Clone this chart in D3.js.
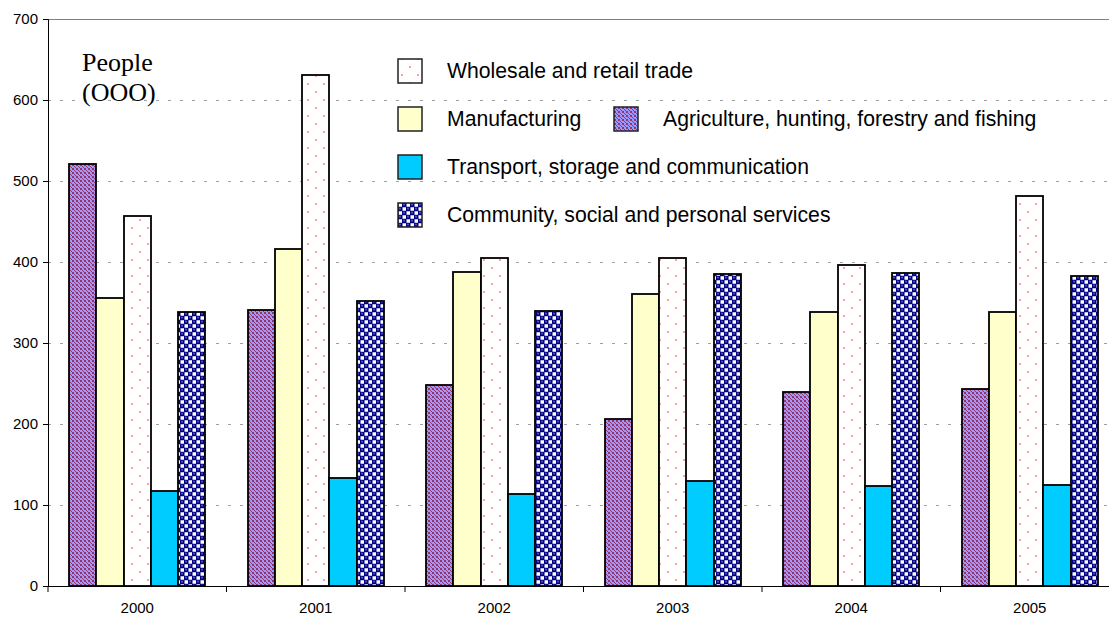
<!DOCTYPE html>
<html>
<head>
<meta charset="utf-8">
<script src="https://cdn.jsdelivr.net/npm/d3@7"></script>
<style>
  html, body { margin: 0; padding: 0; background: #fff; }
  svg { display: block; }
  text { font-family: "Liberation Sans", Arial, sans-serif; fill: #000; }
</style>
</head>
<body>
<svg id="chart" width="1109" height="617"></svg>
<script>
// Employment by sector, thousands of people
const years = ["2000", "2001", "2002", "2003", "2004", "2005"];
const sectors = ["agri", "manuf", "trade", "transport", "community"];
const agriculture = [521, 341, 248, 206, 239, 243];
const manufacturing = [355, 416, 388, 360, 338, 338];
const wholesale = [457, 631, 405, 405, 396, 481];
const transport = [117, 133, 114, 130, 123, 125];
const community = [338, 352, 339, 385, 387, 383];
const yTicks = [0, 100, 200, 300, 400, 500, 600, 700];

const seriesValues = {
  agri: agriculture,
  manuf: manufacturing,
  trade: wholesale,
  transport: transport,
  community: community
};

const svg = d3.select("#chart");
const W = 1109;
const plotLeft = 48, plotTop = 19, plotBottom = 586;
const step = 178.5;

// Fill patterns
const defs = svg.append("defs");

// dotted pink on white
const pTrade = defs.append("pattern").attr("id", "p-trade")
  .attr("patternUnits", "userSpaceOnUse").attr("width", 16).attr("height", 16);
pTrade.append("rect").attr("width", 16).attr("height", 16).attr("fill", "#fff");
pTrade.append("rect").attr("x", 3).attr("y", 3).attr("width", 2).attr("height", 2).attr("fill", "#ff9f9f");
pTrade.append("rect").attr("x", 11).attr("y", 11).attr("width", 2).attr("height", 2).attr("fill", "#ff9f9f");

// lilac crosses on a maroon lattice
const pAgri = defs.append("pattern").attr("id", "p-agri")
  .attr("patternUnits", "userSpaceOnUse").attr("width", 8).attr("height", 8);
pAgri.append("rect").attr("width", 8).attr("height", 8).attr("fill", "#9999ff");
[[0,0],[4,0],[0,4],[4,4]].forEach(p =>
  pAgri.append("rect").attr("x", p[0]).attr("y", p[1]).attr("width", 2).attr("height", 2).attr("fill", "#993366"));
[[3,3],[7,3],[3,7],[7,7],[2,2],[6,6],[2,6],[6,2]].forEach(p =>
  pAgri.append("rect").attr("x", p[0]).attr("y", p[1]).attr("width", 1).attr("height", 1).attr("fill", "#993366"));

// navy spheres with white squares
const pComm = defs.append("pattern").attr("id", "p-comm")
  .attr("patternUnits", "userSpaceOnUse").attr("width", 8).attr("height", 8);
pComm.append("rect").attr("width", 8).attr("height", 8).attr("fill", "#000080");
pComm.append("rect").attr("x", 4.5).attr("y", 0.25).attr("width", 3.5).attr("height", 3.5).attr("fill", "#fff");
pComm.append("rect").attr("x", 0.5).attr("y", 4.25).attr("width", 3.5).attr("height", 3.5).attr("fill", "#fff");
pComm.append("circle").attr("cx", 2).attr("cy", 1.6).attr("r", 1.1).attr("fill", "#5050b0");
pComm.append("circle").attr("cx", 6).attr("cy", 5.6).attr("r", 1.1).attr("fill", "#5050b0");

const fills = {
  agri: "url(#p-agri)",
  manuf: "#ffffcc",
  trade: "url(#p-trade)",
  transport: "#00ccff",
  community: "url(#p-comm)"
};

// Scales
const x = d3.scaleBand().domain(years).range([plotLeft, plotLeft + step * years.length]).padding(0);
const xs = d3.scaleBand().domain(sectors).range([0, step]).paddingInner(0).paddingOuter(0.78);
const y = d3.scaleLinear().domain([0, 700]).range([plotBottom, plotTop]);

// Gridlines
svg.append("g").selectAll("line")
  .data(yTicks.filter(t => t > 0 && t < 700))
  .join("line")
  .attr("x1", plotLeft).attr("x2", W)
  .attr("y1", d => Math.round(y(d)) + 0.5).attr("y2", d => Math.round(y(d)) + 0.5)
  .attr("stroke", "#a0a0a0").attr("stroke-width", 1)
  .attr("stroke-dasharray", "3,9");

// Top frame line
svg.append("line")
  .attr("x1", plotLeft).attr("x2", W)
  .attr("y1", Math.round(y(700)) + 0.5).attr("y2", Math.round(y(700)) + 0.5)
  .attr("stroke", "#808080").attr("stroke-width", 1.2);

// Bars (pixel-snapped so the fill patterns line up the same in every group)
const barData = [];
years.forEach((yr, i) => sectors.forEach(s => barData.push({ yr, s, v: seriesValues[s][i] })));
const bx0 = d => Math.round(x(d.yr) + xs(d.s));
const bx1 = d => Math.round(x(d.yr) + xs(d.s) + xs.bandwidth());

svg.append("g").selectAll("rect")
  .data(barData)
  .join("rect")
  .attr("x", d => bx0(d))
  .attr("width", d => bx1(d) - bx0(d))
  .attr("y", d => Math.round(y(d.v)))
  .attr("height", d => Math.round(y(0)) - Math.round(y(d.v)))
  .attr("fill", d => fills[d.s])
  .attr("stroke", "#000")
  .attr("stroke-width", 1.8);

// Y axis
const yAxis = svg.append("g")
  .attr("transform", `translate(${plotLeft},0)`)
  .call(d3.axisLeft(y).tickValues(yTicks).tickSize(5).tickPadding(5).tickFormat(d3.format("d")));
yAxis.select(".domain").attr("stroke", "#000");
yAxis.selectAll(".tick line").attr("stroke", "#000");
yAxis.selectAll("text").style("font-size", "15px").style("font-family", "'Liberation Sans', Arial, sans-serif");

// X axis with ticks on category boundaries
const xAxisG = svg.append("g").attr("transform", `translate(0,${plotBottom})`);
xAxisG.append("line").attr("x1", plotLeft).attr("x2", W).attr("y1", 0.5).attr("y2", 0.5)
  .attr("stroke", "#000").attr("stroke-width", 1.2);
const boundaries = years.map(d => x(d)).concat([x(years[years.length - 1]) + x.step()]);
xAxisG.selectAll("line.tk").data(boundaries).join("line").attr("class", "tk")
  .attr("x1", d => d).attr("x2", d => d).attr("y1", 0).attr("y2", 6)
  .attr("stroke", "#000");
xAxisG.selectAll("text").data(years).join("text")
  .attr("x", d => x(d) + x.bandwidth() / 2)
  .attr("y", 27)
  .attr("text-anchor", "middle")
  .style("font-size", "15px")
  .text(d => d);

// Unit label
const unit = svg.append("text")
  .attr("x", 82).attr("y", 71)
  .style("font-family", "'Liberation Serif', 'Times New Roman', serif")
  .style("font-size", "26px");
unit.append("tspan").attr("x", 82).text("People");
unit.append("tspan").attr("x", 82).attr("dy", 30).text("(OOO)");

// Legend
const legendItems = [
  { s: "trade", label: "Wholesale and retail trade", x: 398, y: 71 },
  { s: "manuf", label: "Manufacturing", x: 398, y: 119 },
  { s: "agri", label: "Agriculture, hunting, forestry and fishing", x: 614, y: 119 },
  { s: "transport", label: "Transport, storage and communication", x: 398, y: 167 },
  { s: "community", label: "Community, social and personal services", x: 398, y: 215 }
];
const legend = svg.append("g");
const li = legend.selectAll("g").data(legendItems).join("g")
  .attr("transform", d => `translate(${d.x},${d.y})`);
li.append("rect")
  .attr("x", 0).attr("y", -12).attr("width", 24).attr("height", 24)
  .attr("fill", d => fills[d.s])
  .attr("stroke", "#222").attr("stroke-width", 1.5);
li.append("text")
  .attr("x", 49).attr("y", 0)
  .attr("dy", "0.35em")
  .style("font-size", "21.2px")
  .text(d => d.label);
</script>
</body>
</html>
